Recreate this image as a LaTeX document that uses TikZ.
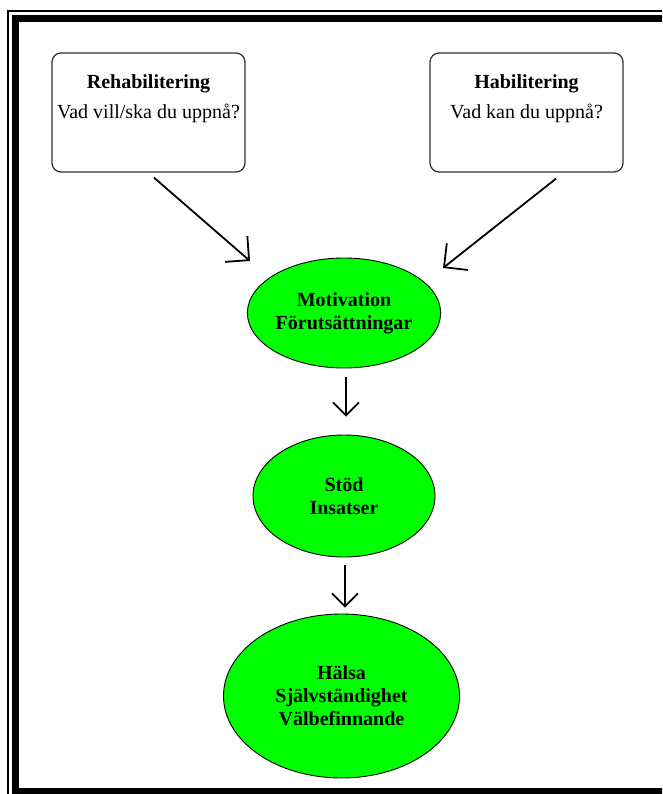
\documentclass[tikz,border=0pt]{standalone}
\usepackage{fontspec}
\setmainfont{Liberation Serif}
\usetikzlibrary{shapes.geometric,arrows.meta}
\definecolor{vgreen}{RGB}{0,255,0}
\tikzset{
    goalbox/.style={draw=black!80, line width=1.3pt, rounded corners=9pt,
                    minimum width=193pt, minimum height=119pt, inner sep=0pt},
    goalhead/.style={anchor=base, font=\fontsize{20}{23}\selectfont\bfseries},
    goalsub/.style={anchor=base, font=\fontsize{20}{23}\selectfont},
    stage/.style={ellipse, draw, fill=vgreen, line width=0.9pt, inner sep=0pt,
                  align=center, font=\fontsize{20}{23}\selectfont\bfseries},
    bigarrow/.style={line width=1.8pt, -{Straight Barb[length=17pt,width=34pt]}},
    smallarrow/.style={line width=1.8pt, -{Straight Barb[length=13pt,width=26pt]}}
}
\begin{document}
\begin{tikzpicture}[x=1pt, y=-1pt]
    \useasboundingbox (0, 0) rectangle (662, 794);
    \fill[white] (0, 0) rectangle (662, 794);
    \clip (0, 0) rectangle (662, 794);
    \draw[line width=1.5pt] (8, 11) rectangle (760, 830);
    \draw[line width=7pt] (15.5, 18.5) rectangle (740, 791.5);

    \node[goalbox] (rehab) at (148.5, 112.5) {};
    \node[goalhead] (rehabhead) at (148.5, 89) {Rehabilitering};
    \node[goalsub] (rehabsub) at (148.5, 119) {Vad vill/ska du uppnå?};

    \node[goalbox] (habil) at (526.5, 112.5) {};
    \node[goalhead] (habilhead) at (526.5, 89) {Habilitering};
    \node[goalsub] (habilsub) at (526.5, 119) {Vad kan du uppnå?};

    \node[stage, minimum width=182pt, minimum height=110pt] (motiv) at (344, 313)
        {Motivation\\Förutsättningar};
    \node[stage, minimum width=182pt, minimum height=122pt] (stod) at (344, 496)
        {Stöd\\Insatser};
    \node[stage, minimum width=236pt, minimum height=164pt] (halsa) at (341.5, 696)
        {Hälsa\\Självständighet\\Välbefinnande};

    \coordinate (rehabout) at ([shift={(5.5, 5)}]rehab.south);
    \coordinate (habilout) at ([shift={(29.5, 6)}]habil.south);
    \coordinate (motivleft) at ([shift={(-94, -52)}]motiv.center);
    \coordinate (motivright) at ([shift={(99, -45)}]motiv.center);

    \draw[bigarrow] (rehabout) -- (motivleft);
    \draw[bigarrow] (habilout) -- (motivright);
    \draw[smallarrow, shorten <=9pt, shorten >=18pt] ([xshift=2pt]motiv.south) -- ([xshift=2pt]stod.north);
    \draw[smallarrow, shorten <=8pt, shorten >=6pt] ([xshift=1pt]stod.south) -- ([xshift=3.5pt]halsa.north);
\end{tikzpicture}
\end{document}
